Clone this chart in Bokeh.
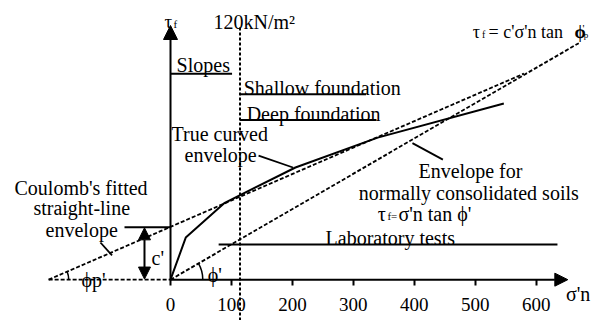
import math
from bokeh.plotting import figure
from bokeh.models import LinearAxis, FixedTicker, Arrow, NormalHead
from bokeh.core.properties import value
from bokeh.embed import file_html
from bokeh.resources import INLINE

# ---- data (kN/m^2) ----
x_ticks = [0, 100, 200, 300, 400, 500, 600]
curve_sigma = [0, 25, 89, 205, 340, 547]
curve_tau = [0, 69, 126, 184, 233, 289]
coulomb_sigma = [-200, 580]
coulomb_tau = [0, 338]
c_prime = 86
nc_sigma = [0, 670]
nc_tau = [0, 388]
sigma_ref = 114          # the "120 kN/m2" marker line
band_names = ["Slopes", "Shallow foundation", "Deep foundation", "Laboratory tests"]
band_start = [0, 114, 114, 79]
band_end = [101, 321, 338, 635]
band_tau = [338, 304, 262, 57.5]

FAMILY = "Liberation Serif"
K = "black"

p = figure(width=599, height=320, x_range=(-279, 704), y_range=(-67, 458),
           x_axis_type=None, y_axis_type=None, min_border=0,
           toolbar_location=None, output_backend="svg",
           outline_line_color=None, background_fill_color="white",
           border_fill_color="white")

xaxis = LinearAxis(fixed_location=0, ticker=FixedTicker(ticks=x_ticks),
                   axis_line_color=None, major_tick_in=0, major_tick_out=6,
                   major_tick_line_width=2, major_tick_line_color=K,
                   minor_tick_line_color=None,
                   major_label_text_font=FAMILY,
                   major_label_text_font_size="19px",
                   major_label_text_color=K,
                   major_label_standoff=12)
p.add_layout(xaxis, "below")

# axis arrows
p.add_layout(Arrow(end=NormalHead(size=13, fill_color=K, line_color=K),
                   x_start=0, y_start=0, x_end=652, y_end=0,
                   line_width=2, line_color=K))
p.add_layout(Arrow(end=NormalHead(size=14, fill_color=K, line_color=K),
                   x_start=0, y_start=0, x_end=0, y_end=417,
                   line_width=2, line_color=K))

# dashed extension of the sigma axis and the reference line
p.line(x=[coulomb_sigma[0], 0], y=[0, 0], line_dash="4 2", line_width=1.8, color=K)
p.line(x=[sigma_ref, sigma_ref], y=[-67, 414], line_dash="3 2", line_width=2, color=K)

# envelopes
p.line(x=curve_sigma, y=curve_tau, line_width=2, color=K)
p.line(x=coulomb_sigma, y=coulomb_tau, line_dash="4 2", line_width=1.8, color=K)
p.line(x=nc_sigma, y=nc_tau, line_dash="4 2", line_width=1.8, color=K)

# stress-range bands
p.segment(x0=band_start, y0=band_tau, x1=band_end, y1=band_tau, line_width=2, color=K)

# leaders
p.segment(x0=[144.5, -75.5, -115, 397], y0=[203.6, c_prime, 61, 224],
          x1=[201, 0, -96, 447], y1=[184, c_prime, 40, 197], line_width=1.8, color=K)

# c' double arrow
p.add_layout(Arrow(start=NormalHead(size=12, fill_color=K, line_color=K),
                   end=NormalHead(size=12, fill_color=K, line_color=K),
                   x_start=-42.7, y_start=1, x_end=-42.7, y_end=c_prime - 1,
                   line_width=2, line_color=K))

# angle arcs
p.arc(x=[coulomb_sigma[0]], y=[0], radius=33, start_angle=0,
      end_angle=math.atan2(coulomb_tau[1], coulomb_sigma[1] - coulomb_sigma[0]),
      line_width=1.5, color=K)
p.arc(x=[0], y=[0], radius=53, start_angle=0,
      end_angle=math.atan2(nc_tau[1], nc_sigma[1]), line_width=1.5, color=K)


def txt(x, y, s, size="20px", style="normal"):
    p.text(x=[x], y=[y], text=[s], text_font=value(FAMILY), text_font_size=size,
           text_font_style=style, text_align="left", text_baseline="alphabetic",
           text_color=K)


txt(-10, 423.6, "τ", "19px")
txt(5, 419, "f", "11px")
txt(70.6, 423, "120kN/m²")
txt(10, 353, band_names[0])
txt(120, 315, band_names[1])
txt(125, 271, band_names[2])
txt(254.5, 68.5, band_names[3])
txt(1.6, 239, "True curved")
txt(23, 204, "envelope")
txt(-256, 151, "Coulomb's fitted")
txt(-225, 117, "straight-line")
txt(-205, 82, "envelope")
txt(-31, 36, "c'")
txt(-146, -1, "ϕp'")
txt(61, 8, "ϕ'")
txt(407, 179, "Envelope for")
txt(309, 143, "normally consolidated soils")
txt(340, 108, "τ")
txt(356, 104, "f=", "11px")
txt(374, 108, "σ'n tan ϕ'")
txt(649, -23, "σ'n")
# top-right formula
txt(496, 406, "τ", "18px")
txt(511, 402, "f", "10px")
txt(522, 406, "= c'σ'n tan", "18px")
txt(663, 406, "ϕ", "18px", "bold")
txt(676, 413, "'", "11px")
txt(678, 401, "p", "9px")

open("out.html", "w").write(file_html(p, INLINE))
